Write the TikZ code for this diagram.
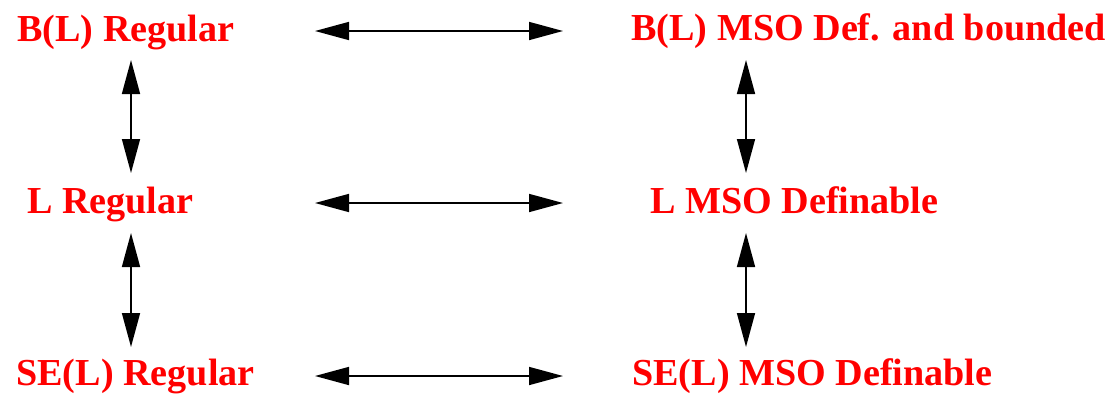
\documentclass[tikz,border=0pt]{standalone}
\usepackage{fontspec}
\setmainfont{Liberation Serif}
\usetikzlibrary{arrows.meta}
\begin{document}
\begin{tikzpicture}[x=0.75pt,y=-0.75pt,
  lbl/.style={anchor=base west,inner sep=0pt,text=red,font=\fontsize{28.6}{30}\selectfont\bfseries},
  conn/.style={line width=1.2pt,{Triangle[length=25.5pt,width=13.5pt]}-{Triangle[length=25.5pt,width=13.5pt]}}]
\useasboundingbox (0,0) rectangle (1111,393);
\node[lbl] (blr) at (17,41) {B(L) Regular};
\node[lbl] (blm) at (631,40) {B(L) MSO Def. and bounded};
\node[lbl] (lr) at (27,213) {L Regular};
\node[lbl] (lm) at (650,213) {L MSO Definable};
\node[lbl] (ser) at (16,385) {SE(L) Regular};
\node[lbl] (sem) at (632,385) {SE(L) MSO Definable};
% arrow end points
\coordinate (h1a) at (315,31);  \coordinate (h1b) at (563,31);
\coordinate (h2a) at (315,203); \coordinate (h2b) at (563,203);
\coordinate (h3a) at (315,376); \coordinate (h3b) at (563,376);
\coordinate (v1a) at (131,60);  \coordinate (v1b) at (131,173);
\coordinate (v2a) at (131,233); \coordinate (v2b) at (131,347);
\coordinate (v3a) at (746,60);  \coordinate (v3b) at (746,173);
\coordinate (v4a) at (746,233); \coordinate (v4b) at (746,347);
\draw[conn] (h1a) -- (h1b);
\draw[conn] (h2a) -- (h2b);
\draw[conn] (h3a) -- (h3b);
\draw[conn] (v1a) -- (v1b);
\draw[conn] (v2a) -- (v2b);
\draw[conn] (v3a) -- (v3b);
\draw[conn] (v4a) -- (v4b);
\end{tikzpicture}
\end{document}
